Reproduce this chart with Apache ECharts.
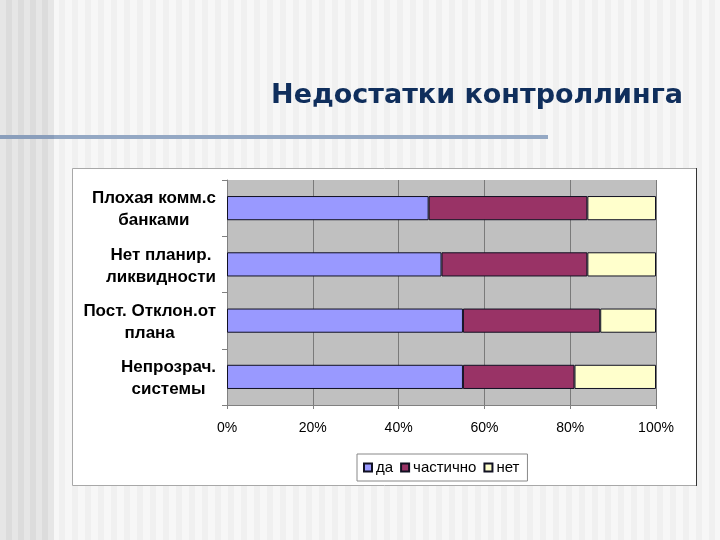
<!DOCTYPE html>
<html>
<head>
<meta charset="utf-8">
<script src="https://cdn.jsdelivr.net/npm/echarts@6/dist/echarts.min.js"></script>
<style>
html, body { margin: 0; padding: 0; }
body {
  width: 720px; height: 540px; overflow: hidden;
  background:
    repeating-linear-gradient(90deg, #e6e6e6 0px, #e6e6e6 6px, #dcdcdc 6px, #dcdcdc 12px) 0 0 / 54px 100% no-repeat,
    repeating-linear-gradient(90deg, #f7f7f7 0px, #f7f7f7 7px, #f0f0f0 7px, #f0f0f0 13px);
}
#chart { position: absolute; left: 0; top: 0; width: 720px; height: 540px; }
</style>
</head>
<body>
<div id="chart"></div>
<script>
var titleText = 'Недостатки контроллинга';
var categories = ['Плохая комм.с\nбанками', 'Нет планир.\nликвидности', 'Пост. Отклон.от\nплана', 'Непрозрач.\nсистемы'];
var seriesNames = ['да', 'частично', 'нет'];
var daValues = [47, 50, 55, 55];
var partlyValues = [37, 34, 32, 26];
var netValues = [16, 16, 13, 19];
var xTicks = [0, 20, 40, 60, 80, 100];

var chart = echarts.init(document.getElementById('chart'), null, { renderer: 'canvas' });
var colors = ['#9999ff', '#993366', '#ffffcc'];
var valueSets = [daValues, partlyValues, netValues];

var series = seriesNames.map(function (name, i) {
  return {
    name: name,
    type: 'bar',
    stack: 'total',
    data: valueSets[i],
    barWidth: '43%',
    itemStyle: { color: colors[i], borderColor: '#111122', borderWidth: 1 },
    emphasis: { disabled: true }
  };
});

chart.setOption({
  animation: false,
  title: {
    text: titleText,
    right: 32,
    top: 77,
    textStyle: { fontFamily: 'DejaVu Sans', fontWeight: 'bold', fontSize: 27, color: '#0f2e5c' }
  },
  graphic: [
    { type: 'rect', shape: { x: 0, y: 135, width: 548, height: 4 }, style: { fill: '#94a8c4' }, z: 0 },
    { type: 'rect', shape: { x: 0, y: 135, width: 54, height: 4 }, style: { fill: '#8a9ebb' }, z: 0 },
    { type: 'rect', shape: { x: 72.5, y: 168.5, width: 624, height: 317 }, style: { fill: '#ffffff', stroke: '#a8a8a8', lineWidth: 1 }, z: -10 },
    { type: 'line', shape: { x1: 696.5, y1: 168, x2: 696.5, y2: 486 }, style: { stroke: '#333333', lineWidth: 1 }, z: -9 }
  ],
  legend: {
    left: 357,
    top: 454,
    orient: 'horizontal',
    data: seriesNames,
    backgroundColor: '#ffffff',
    borderColor: '#888888',
    borderWidth: 1,
    padding: [6, 8, 6, 6],
    itemGap: 7,
    itemWidth: 8,
    itemHeight: 8,
    icon: 'rect',
    selectedMode: false,
    textStyle: { fontFamily: 'Liberation Sans', fontSize: 15, color: '#000', padding: [0, 0, 0, -1] }
  },
  grid: { left: 227, right: 64, top: 180, bottom: 135, backgroundColor: '#c0c0c0', show: true, borderWidth: 0 },
  xAxis: {
    type: 'value',
    min: 0,
    max: 100,
    interval: 20,
    axisLine: { show: true, lineStyle: { color: '#808080' } },
    axisTick: { show: true, length: 4, lineStyle: { color: '#808080' } },
    splitLine: { show: true, lineStyle: { color: '#7a7a7a', width: 1 } },
    axisLabel: {
      margin: 16,
      fontFamily: 'Liberation Sans', fontSize: 14, color: '#000',
      formatter: function (v) { return v + '%'; }
    }
  },
  yAxis: {
    type: 'category',
    inverse: true,
    data: categories,
    axisLine: { show: true, lineStyle: { color: '#808080' } },
    axisTick: { show: true, length: 5, alignWithLabel: false, lineStyle: { color: '#808080' } },
    axisLabel: {
      margin: 11,
      align: 'right',
      padding: [3, 0, 0, 0],
      formatter: function (v) {
        return v.split('\n').map(function (s) { return '{c|' + s + '}'; }).join('\n');
      },
      rich: {
        c: { align: 'center', fontFamily: 'Liberation Sans', fontWeight: 'bold', fontSize: 17, lineHeight: 22, color: '#000' }
      }
    }
  },
  series: series
});
</script>
</body>
</html>
